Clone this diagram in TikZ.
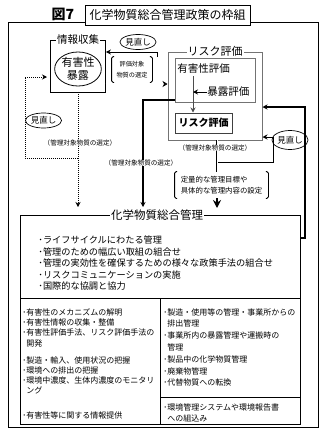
\documentclass[tikz,border=0pt]{standalone}
\usepackage{fontspec}
\setmainfont{Noto Sans CJK JP}
\usetikzlibrary{arrows.meta,shapes.geometric,positioning}

\newcommand{\fsz}[2]{\fontsize{#1}{#2}\selectfont}

\tikzset{
  frame/.style={draw, line width=0.8pt},
  graybox/.style={draw=black!55, line width=1pt},
  cut/.style={fill=white, inner sep=1pt},
  choice/.style={fill=white, inner sep=0.3pt, font=\fsz{6.6}{7}},
  review/.style={draw, ellipse, inner sep=0pt, line width=0.7pt, font=\fsz{8.5}{9}},
  items/.style={anchor=north west, align=left, inner sep=0pt},
  arr/.style={-{Stealth[length=5pt,width=5pt]}},
  dots/.style={line width=1pt, dash pattern=on 1pt off 1pt},
}

\begin{document}
\begin{tikzpicture}[x=1pt, y=-1pt, line width=0.8pt]
\useasboundingbox (0,0) rectangle (326,429);

% outer frame and title
\draw[frame] (8,22) rectangle (318,427);
\node[draw, fill=white, line width=1pt, minimum width=165pt, minimum height=20pt,
      font=\fsz{12}{12}] (title) at (167.5,15) {化学物質総合管理政策の枠組};
\node[font=\fsz{14}{14}\bfseries] (fig) at (63,14) {図7};

% information gathering
\node[frame, minimum width=55pt, minimum height=52pt] (info) at (78,66) {};
\node[cut, font=\fsz{10.5}{11}] (infolbl) at (info.north) {情報収集};
\node[draw, ellipse, minimum width=45pt, minimum height=34pt, inner sep=0pt,
      align=center, font=\fsz{11}{13}] (hazexp) at (78,69) {有害性\\暴露};

% risk assessment
\node[graybox, minimum width=94pt, minimum height=88pt] (risk) at (215,96) {};
\node[cut, font=\fsz{11}{11}] (risklbl) at (risk.north) {リスク評価};
\node[graybox, minimum width=80pt, minimum height=44pt] (hazbox) at (215,80) {};
\node[anchor=west, inner sep=0pt, font=\fsz{10.5}{11}] (haztxt) at (177,69) {有害性評価};
\node[anchor=west, inner sep=0pt, font=\fsz{10.5}{11}] (expo) at (207,92) {暴露評価};
\node[draw=black!75, line width=1pt, minimum width=57pt, minimum height=20pt,
      font=\fsz{10}{10}\bfseries] (riskin) at (203.5,123) {リスク評価};
\coordinate (h1) at (193,76);
\coordinate (h2) at (193,92);
\draw[black!70, line width=1pt, arr] (h1) -- (h1 |- riskin.north);
\draw[line width=0.9pt, arr] (expo.west) -- (h2);

% review back to information gathering
\node[review, minimum width=33pt, minimum height=15pt] (rev1) at (138,42) {見直し};
\coordinate (f1) at (157,57);
\coordinate (f2) at (157,52);
\draw[arr] (f1) -- (f2) -- (f2 -| info.east);

% substances to evaluate
\node[align=center, inner sep=0pt, minimum width=40pt, minimum height=25pt,
      font=\fsz{6.2}{11}] (evsel) at (132,69.5) {評価対象\\物質の選定};
\draw[rounded corners=1.5pt] ([xshift=2.5pt]evsel.north west) -- (evsel.north west)
  -- (evsel.south west) -- ([xshift=2.5pt]evsel.south west);
\draw[rounded corners=1.5pt] ([xshift=-2.5pt]evsel.north east) -- (evsel.north east)
  -- (evsel.south east) -- ([xshift=-2.5pt]evsel.south east);
\coordinate (d1) at (105.5,84);
\draw[double, double distance=1.2pt, line width=0.6pt, -{Stealth[length=5pt,width=6pt]}]
  (d1) -- (d1 -| risk.west);

% left: dotted path
\coordinate (l2) at (78,207);
\draw[dots, arr] (info.south) -- (l2);
\coordinate (l0) at (78,158);
\coordinate (l1) at (25,158);
\coordinate (l3) at (25,77);
\coordinate (l4) at (47,77);
\draw[dots, arr] (l0) -- (l1) -- (l3) -- (l4);
\node[review, minimum width=33pt, minimum height=15pt] (rev0) at (43.5,120.5) {見直し};
\node[choice] (sel1) at (80,143) {（管理対象物質の選定）};

% middle: solid path
\coordinate (m0) at (175,100);
\coordinate (m1) at (143,100);
\coordinate (m2) at (143,207);
\draw[line width=1.3pt, arr] (m0) -- (m1) -- (m2);
\node[choice] (sel2) at (141,163) {（管理対象物質の選定）};

% right: stem under risk assessment
\coordinate (s0) at (217,140);
\coordinate (s1) at (217,172);
\draw[double, double distance=1pt, line width=0.6pt] (s0) -- (s1);
\node[choice] (sel3) at (215,148) {（管理対象物質の選定）};
\coordinate (r0) at (218,162);
\coordinate (r1) at (273,162);
\coordinate (r2) at (273,137);
\draw[line width=1pt, arr] (r0) -- (r1) -- (r2) -- (r2 -| risk.east);
\node[review, minimum width=31pt, minimum height=19pt] (rev2) at (290,140) {見直し};

\node[align=left, inner sep=0pt, minimum width=93pt, minimum height=26pt,
      font=\fsz{7.4}{10.5}] (quant) at (221.5,185) {定量的な管理目標や\\具体的な管理内容の設定};
\draw[rounded corners=1.5pt] ([xshift=2.5pt]quant.north west) -- (quant.north west)
  -- (quant.south west) -- ([xshift=2.5pt]quant.south west);
\draw[rounded corners=1.5pt] ([xshift=-2.5pt]quant.north east) -- (quant.north east)
  -- (quant.south east) -- ([xshift=-2.5pt]quant.south east);
\coordinate (q0) at (217,198);
\coordinate (q1) at (217,208);
\draw[line width=1.5pt, -{Stealth[length=8pt,width=8pt]}] (q0) -- (q1);

% integrated management
\node[frame, minimum width=280pt, minimum height=209pt] (mgmt) at (160,319.5) {};
\node[cut, font=\fsz{11.5}{12}] (mgmtlbl) at (157,215) {化学物質総合管理};
\coordinate (b0) at (300,238);
\coordinate (b1) at (305,238);
\coordinate (b2) at (305,107);
\draw[line width=1.3pt, arr] (b0) -- (b1) -- (b2) -- (b2 -| risk.east);
\draw (20,298) -- (300,298);
\draw (160,298) -- (160,424);
\draw (160,397) -- (300,397);

\node[items, font=\fsz{9.2}{11.5}] (goals) at (38,235.5)
  {･ライフサイクルにわたる管理\\･管理のための幅広い取組の組合せ\\･管理の実効性を確保するための様々な政策手法の組合せ\\･リスクコミュニケーションの実施\\･国際的な協調と協力};

\node[items, font=\fsz{8}{10.3}] (sci) at (22,308)
  {･有害性のメカニズムの解明\\･有害性情報の収集・整備\\･有害性評価手法、リスク評価手法の\\\hspace*{0.5em}開発};
\node[items, font=\fsz{8}{10}] (use) at (22,356)
  {･製造・輸入、使用状況の把握\\･環境への排出の把握\\･環境中濃度、生体内濃度のモニタリ\\\hspace*{0.5em}ング};
\node[items, font=\fsz{8}{10}] (pub) at (22,411) {･有害性等に関する情報提供};
\node[items, font=\fsz{8}{11.8}] (ctrl) at (163,308)
  {･製造・使用等の管理・事業所からの\\\hspace*{0.5em}排出管理\\･事業所内の暴露管理や運搬時の\\\hspace*{0.5em}管理\\･製品中の化学物質管理\\･廃棄物管理\\･代替物質への転換};
\node[items, font=\fsz{8}{11}] (ems) at (163,403)
  {･環境管理システムや環境報告書\\\hspace*{0.5em}への組込み};
\end{tikzpicture}
\end{document}
